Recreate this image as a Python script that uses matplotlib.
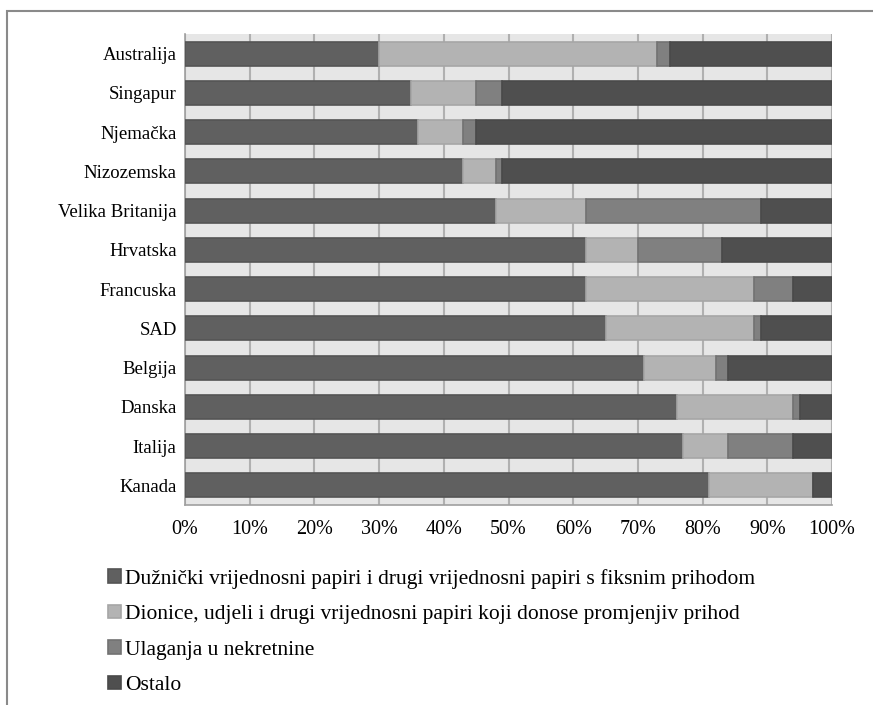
import matplotlib.pyplot as plt
from matplotlib.patches import Rectangle

countries = ['Australija', 'Singapur', 'Njemačka', 'Nizozemska', 'Velika Britanija',
             'Hrvatska', 'Francuska', 'SAD', 'Belgija', 'Danska', 'Italija', 'Kanada']
duznicki = [30, 35, 36, 43, 48, 62, 62, 65, 71, 76, 77, 81]
dionice = [43, 10, 7, 5, 14, 8, 26, 23, 11, 18, 7, 16]
nekretnine = [2, 4, 2, 1, 27, 13, 6, 1, 2, 1, 10, 0]
ostalo = [25, 51, 55, 51, 11, 17, 6, 11, 16, 5, 6, 3]

series_names = ['Dužnički vrijednosni papiri i drugi vrijednosni papiri s fiksnim prihodom',
                'Dionice, udjeli i drugi vrijednosni papiri koji donose promjenjiv prihod',
                'Ulaganja u nekretnine',
                'Ostalo']
colors = ['#606060', '#b3b3b3', '#808080', '#4f4f4f']
edges = ['#545454', '#a6a6a6', '#727272', '#4a4a4a']

plt.rcParams['font.family'] = ['Liberation Serif', 'DejaVu Serif']

fig = plt.figure(figsize=(8.73, 7.05), dpi=100)
ax = fig.add_axes([185 / 873, 1 - 505 / 705, 647 / 873, 471 / 705])
ax.set_facecolor('#e6e6e6')

y = list(range(len(countries)))
left = [0] * len(countries)
for vals, col, ec, name in zip([duznicki, dionice, nekretnine, ostalo], colors, edges, series_names):
    ax.barh(y, vals, left=left, height=0.61, color=col, edgecolor=ec, linewidth=1.2,
            label=name, zorder=3)
    left = [a + b for a, b in zip(left, vals)]

ax.set_xlim(0, 100)
ax.set_ylim(len(countries) - 0.5, -0.5)
ax.set_xticks(range(0, 101, 10))
ax.set_xticklabels([f'{v}%' for v in range(0, 101, 10)], fontsize=14.5)
ax.set_yticks(y)
ax.set_yticklabels(countries, fontsize=13.5)
ax.tick_params(length=0, pad=6)
ax.tick_params(axis='x', pad=11)
ax.grid(axis='x', color='#b0b0b0', linewidth=1.5, zorder=1)
ax.set_axisbelow(True)
for s in ['top', 'right']:
    ax.spines[s].set_visible(False)
for s in ['left', 'bottom']:
    ax.spines[s].set_color('#a0a0a0')
    ax.spines[s].set_linewidth(1.2)

# outer chart frame (top and left edges only visible)
fig.add_artist(Rectangle((7 / 873, -0.1), 1.2, 1 - 11 / 705 + 0.1, transform=fig.transFigure,
                         fill=False, edgecolor='#8a8a8a', linewidth=1.5))

handles, labels = ax.get_legend_handles_labels()
fig.legend(handles, labels, loc='upper left', bbox_to_anchor=(99 / 873, 1 - 560 / 705),
           ncol=1, frameon=False, fontsize=15.5, handlelength=0.6, handleheight=0.6,
           handletextpad=0.2, labelspacing=0.75, borderaxespad=0)

fig.savefig('out.png', dpi=100)
